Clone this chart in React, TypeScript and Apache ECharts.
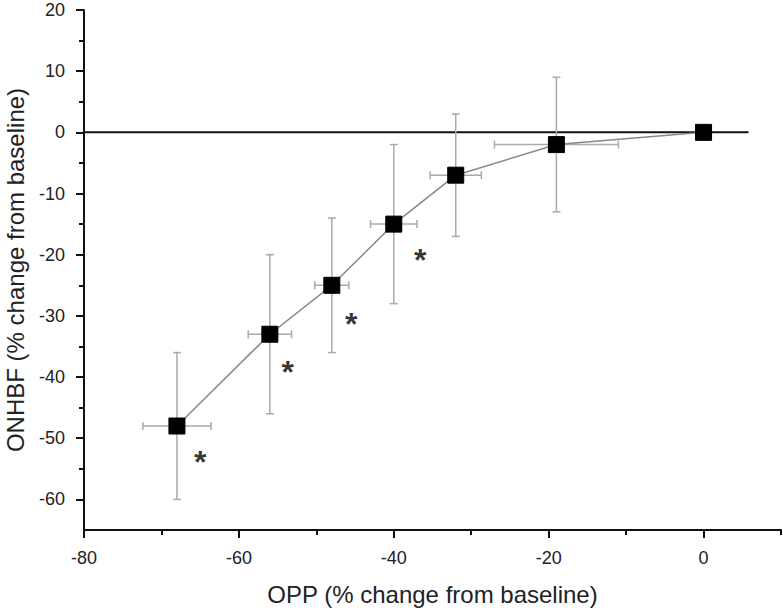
import React, { useEffect, useRef } from "react";
import * as echarts from "echarts";

const oppChange = [-68, -56, -48, -40, -32, -19, 0];
const onhbfChange = [-48, -33, -25, -15, -7, -2, 0];
const oppError = [4.4, 2.8, 2.2, 3, 3.3, 8, 0];
const onhbfError = [12, 13, 11, 13, 10, 11, 0];
const asteriskX = [-65, -53.7, -45.5, -36.6];
const asteriskY = [-52.8, -38, -30.2, -19.7];
const xMajorTicks = [-80, -60, -40, -20, 0];
const xMinorTicks = [-70, -50, -30, -10, 10];
const yMajorTicks = [-60, -50, -40, -30, -20, -10, 0, 10, 20];
const yMinorTicks = [-55, -45, -35, -25, -15, -5, 5, 15];
const zeroLineX = [-80, 5.8];

const FONT = "Liberation Sans, Arial, sans-serif";

export default function App() {
  const ref = useRef<HTMLDivElement>(null);
  useEffect(() => {
    if (!ref.current) return;
    const chart = echarts.init(ref.current, undefined, { renderer: "svg" });
    const points = oppChange.map((x, i) => [x, onhbfChange[i], oppError[i], onhbfError[i]]);
    const axisLine = { show: true, onZero: false, lineStyle: { color: "#111", width: 2 } };
    const option: any = {
      animation: false,
      grid: { left: 84, right: 2, top: 10, bottom: 80, containLabel: false, outerBoundsMode: "none" },
      xAxis: [
        {
          type: "value", min: -80, max: 10, position: "bottom",
          axisLine,
          splitLine: { show: false },
          axisTick: { show: true, length: 8, inside: false, customValues: xMajorTicks, lineStyle: { color: "#111", width: 2 } },
          axisLabel: { customValues: xMajorTicks, fontSize: 18, color: "#222", fontFamily: FONT, margin: 19 },
          name: "OPP (% change from baseline)",
          nameLocation: "middle", nameGap: 52,
          nameTextStyle: { fontSize: 24, color: "#222", fontFamily: FONT },
        },
        {
          type: "value", min: -80, max: 10, position: "bottom",
          axisLine: { show: false, onZero: false },
          splitLine: { show: false },
          axisTick: { show: true, length: 5, customValues: xMinorTicks, lineStyle: { color: "#111", width: 2 } },
          axisLabel: { show: false },
        },
      ],
      yAxis: [
        {
          type: "value", min: -65, max: 20, position: "left",
          axisLine,
          splitLine: { show: false },
          axisTick: { show: true, length: 8, customValues: yMajorTicks, lineStyle: { color: "#111", width: 2 } },
          axisLabel: { customValues: yMajorTicks, fontSize: 18, color: "#222", fontFamily: FONT, margin: 19 },
          name: "ONHBF (% change from baseline)",
          nameLocation: "middle", nameGap: 57,
          nameTextStyle: { fontSize: 24, color: "#222", fontFamily: FONT },
        },
        {
          type: "value", min: -65, max: 20, position: "left",
          axisLine: { show: false, onZero: false },
          splitLine: { show: false },
          axisTick: { show: true, length: 5, customValues: yMinorTicks, lineStyle: { color: "#111", width: 2 } },
          axisLabel: { show: false },
        },
      ],
      series: [
        {
          type: "line",
          data: zeroLineX.map((x) => [x, 0]),
          symbol: "none",
          lineStyle: { color: "#111", width: 2 },
          z: 1,
        },
        {
          type: "custom",
          data: points,
          z: 2,
          renderItem: (params: any, api: any) => {
            const x = api.value(0), y = api.value(1), ex = api.value(2), ey = api.value(3);
            if (!ex && !ey) return null;
            const c = api.coord([x, y]);
            const l = api.coord([x - ex, y]);
            const r = api.coord([x + ex, y]);
            const t = api.coord([x, y + ey]);
            const b = api.coord([x, y - ey]);
            const style = { stroke: "#aaa", lineWidth: 1.5 };
            const cap = 4;
            return {
              type: "group",
              children: [
                { type: "line", shape: { x1: l[0], y1: c[1], x2: r[0], y2: c[1] }, style },
                { type: "line", shape: { x1: l[0], y1: c[1] - cap, x2: l[0], y2: c[1] + cap }, style },
                { type: "line", shape: { x1: r[0], y1: c[1] - cap, x2: r[0], y2: c[1] + cap }, style },
                { type: "line", shape: { x1: c[0], y1: t[1], x2: c[0], y2: b[1] }, style },
                { type: "line", shape: { x1: c[0] - cap, y1: t[1], x2: c[0] + cap, y2: t[1] }, style },
                { type: "line", shape: { x1: c[0] - cap, y1: b[1], x2: c[0] + cap, y2: b[1] }, style },
              ],
            };
          },
        },
        {
          type: "line",
          data: oppChange.map((x, i) => [x, onhbfChange[i]]),
          symbol: "rect",
          symbolSize: 16,
          itemStyle: { color: "#000", borderColor: "#000" },
          lineStyle: { color: "#888", width: 1.5 },
          z: 3,
        },
        {
          type: "scatter",
          data: asteriskX.map((x, i) => [x, asteriskY[i]]),
          symbolSize: 1,
          itemStyle: { color: "transparent" },
          label: {
            show: true, position: "inside", formatter: "*",
            fontSize: 32, fontWeight: "bold", color: "#000", fontFamily: FONT,
            offset: [0, 7],
          },
          z: 4,
        },
      ],
    };
    chart.setOption(option);
    return () => chart.dispose();
  }, []);
  return (
    <div
      ref={ref}
      style={{ position: "fixed", left: 0, top: 0, width: 783, height: 610, background: "#fff" }}
    />
  );
}
